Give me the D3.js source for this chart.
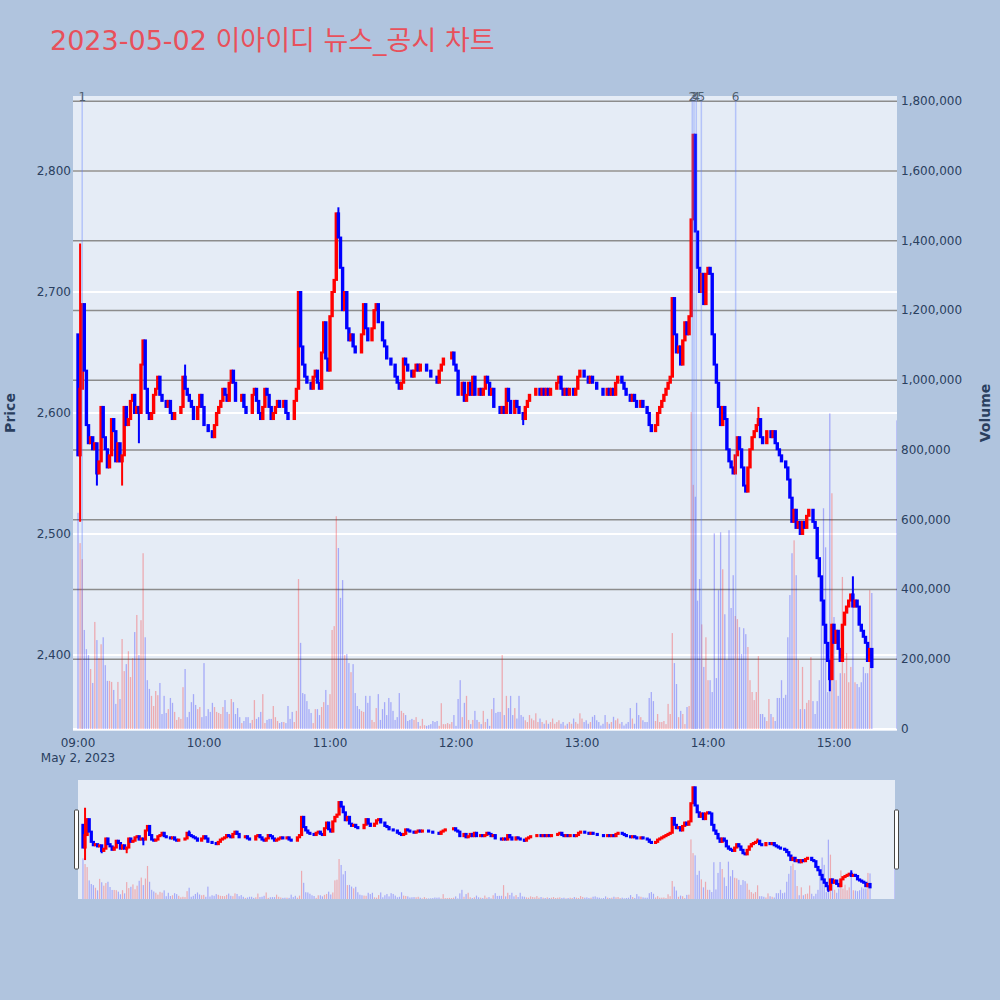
<!DOCTYPE html>
<html><head><meta charset="utf-8">
<script src="https://cdn.jsdelivr.net/npm/d3@7/dist/d3.min.js"></script>
<style>
body{margin:0;background:#b0c4de;}
svg{display:block;font-family:"DejaVu Sans","Noto Sans CJK KR",sans-serif;}
</style>
</head><body>
<svg id="chart" width="1000" height="1000"></svg>
<script>
// ---------------- data ----------------
const titleText = "2023-05-02 이아이디 뉴스_공시 차트";
const sessionDate = [2023, 4, 2];          // May 2, 2023
const firstOpen = 2665;                     // open of the 09:00 candle
// 1-minute closes from 09:00 (index 0) to 15:18
const closes = [
2565,2620,2690,2635,2590,2575,2580,2570,2575,2550,
2560,2605,2580,2570,2555,2565,2595,2585,2560,2575,
2560,2565,2605,2590,2595,2610,2615,2600,2605,2600,
2640,2660,2620,2600,2595,2600,2615,2620,2630,2615,
2610,2610,2605,2610,2600,2595,2600,2600,2600,2605,
2630,2620,2615,2610,2605,2595,2595,2605,2615,2605,
2590,2590,2585,2585,2580,2590,2600,2605,2610,2620,
2615,2610,2625,2635,2625,2610,2610,2610,2615,2605,
2600,2600,2600,2615,2620,2610,2600,2595,2605,2620,
2615,2605,2595,2600,2605,2610,2605,2605,2610,2600,
2595,2595,2595,2610,2620,2700,2655,2640,2630,2625,
2625,2620,2630,2635,2625,2620,2650,2675,2645,2635,
2680,2700,2710,2765,2745,2720,2685,2700,2670,2660,
2665,2655,2650,2650,2650,2665,2690,2670,2660,2660,
2670,2685,2690,2675,2675,2660,2655,2645,2645,2640,
2640,2630,2625,2620,2625,2645,2640,2635,2635,2630,
2635,2640,2635,2640,2640,2640,2635,2635,2630,2630,
2630,2625,2635,2640,2645,2645,2645,2645,2650,2640,
2635,2615,2615,2625,2610,2615,2625,2615,2630,2615,
2615,2620,2615,2620,2630,2625,2615,2620,2605,2605,
2605,2600,2605,2600,2620,2610,2600,2600,2610,2605,
2600,2600,2595,2605,2610,2615,2615,2615,2620,2620,
2615,2620,2615,2620,2615,2620,2620,2620,2625,2630,
2620,2615,2620,2615,2620,2620,2615,2620,2630,2635,
2635,2630,2630,2625,2630,2625,2625,2620,2620,2620,
2615,2615,2620,2615,2620,2615,2625,2630,2630,2625,
2620,2615,2615,2610,2615,2610,2605,2605,2610,2605,
2605,2600,2590,2585,2585,2590,2600,2605,2610,2615,
2620,2625,2630,2695,2665,2650,2655,2640,2660,2675,
2665,2680,2760,2830,2750,2720,2700,2715,2690,2715,
2720,2715,2665,2640,2625,2605,2590,2605,2595,2570,
2560,2555,2550,2565,2580,2570,2555,2540,2535,2555,
2570,2580,2585,2590,2595,2580,2575,2575,2585,2585,
2580,2585,2575,2570,2565,2560,2560,2555,2545,2530,
2510,2520,2505,2510,2500,2510,2505,2515,2520,2520,
2510,2505,2480,2465,2445,2425,2410,2395,2380,2425,
2410,2420,2405,2395,2425,2435,2440,2445,2450,2440,
2445,2440,2425,2420,2415,2410,2395,2405,2390
];
// 1-minute volumes (thousands of shares)
const volumesK = [
620,533,487,284,229,212,172,132,307,255,
203,243,263,183,138,138,135,112,72,135,
86,258,166,186,223,149,203,278,327,212,
312,504,263,140,115,95,66,109,97,132,
43,95,46,57,89,75,49,26,34,29,
120,172,34,49,77,100,69,57,63,34,
189,37,57,49,75,63,49,46,43,63,
83,49,43,86,77,43,60,34,17,23,
34,34,17,26,83,29,34,49,100,17,
26,29,29,66,34,23,17,20,20,17,
66,29,49,20,52,430,247,103,100,80,
57,46,17,57,57,40,63,77,112,69,
100,284,295,610,519,376,427,212,215,189,
163,186,103,66,57,52,49,95,75,95,
26,20,60,100,26,57,77,40,89,77,
52,26,34,103,52,46,40,23,26,29,
26,34,20,9,29,11,9,11,14,23,
20,23,9,74,14,14,17,14,20,40,
9,86,140,34,75,95,26,14,26,52,
26,20,14,52,20,29,9,57,89,46,
49,49,212,40,95,60,95,40,60,30,
95,40,35,25,20,40,30,25,45,20,
30,20,15,25,15,20,30,15,20,25,
15,20,10,15,20,15,30,20,15,45,
30,20,25,15,20,35,40,25,20,10,
15,40,20,15,20,35,25,30,15,20,
10,15,20,60,30,15,75,40,34,25,
20,20,89,106,80,23,43,20,20,23,
14,72,43,275,189,129,34,52,43,14,
63,66,909,700,666,368,430,300,178,263,
140,140,106,561,146,398,564,458,329,198,
570,347,441,324,315,292,215,289,272,235,
140,106,83,106,209,43,43,34,23,86,
43,34,23,89,89,140,89,98,263,384,
504,541,441,198,57,178,57,75,83,206,
80,43,80,140,384,633,521,106,905,676,
321,140,95,160,436,160,218,134,178,407,
134,129,120,134,178,160,160,398,390
];
const closingAuction = {time: [15, 30], price: 2400, volumeK: 885};
const wickHighs = [[1, 2740], [51, 2640], [124, 2770], [294, 2830], [324, 2605], [369, 2465]];
const wickLows  = [[1, 2510], [9, 2540], [21, 2540], [29, 2575], [212, 2590], [358, 2370]];
const priceTicks  = [2400, 2500, 2600, 2700, 2800];
const volumeTicks = [0, 200000, 400000, 600000, 800000, 1000000, 1200000, 1400000, 1600000, 1800000];
const hourTicks   = ["09:00", "10:00", "11:00", "12:00", "13:00", "14:00", "15:00"];
const dateLabel   = "May 2, 2023";
const newsLabels  = ["1", "2", "3", "4", "5", "6"];
const newsTimes   = ["09:02:00", "13:52:30", "13:53:20", "13:54:25", "13:56:50", "14:13:10"];

// ---------------- build OHLC ----------------
const T = (h, m, s) => new Date(sessionDate[0], sessionDate[1], sessionDate[2], h, m, s || 0);
const hi = new Map(wickHighs), lo = new Map(wickLows);
const candles = [];
let prevUp = false;
closes.forEach((c, i) => {
  const o = i === 0 ? firstOpen : closes[i - 1];
  const up = c > o ? true : (c < o ? false : prevUp);
  prevUp = up;
  candles.push({t: T(9, i), o, c,
    h: Math.max(o, c, hi.get(i) || -Infinity),
    l: Math.min(o, c, lo.has(i) ? lo.get(i) : Infinity),
    v: volumesK[i] * 1000, up});
});
{
  const p = closingAuction.price;
  candles.push({t: T(closingAuction.time[0], closingAuction.time[1]), o: p, c: p, h: p, l: p,
    v: closingAuction.volumeK * 1000, up: prevUp});
}
const news = newsTimes.map((s, k) => {
  const [h, m, sec] = s.split(":").map(Number);
  return {t: T(h, m, sec), label: newsLabels[k]};
});

// ---------------- layout ----------------
const svg = d3.select("#chart");
const P = {l: 73, r: 897, t: 96, b: 729};
const xDomain = [T(8, 57, 37), T(15, 30, 0)];
const priceDomain = [2338.8, 2862];
const volDomain = [0, 1815000];
const x = d3.scaleTime().domain(xDomain).range([P.l, P.r]);
const yP = d3.scaleLinear().domain(priceDomain).range([P.b, P.t]);
const yV = d3.scaleLinear().domain(volDomain).range([P.b, P.t]);
const RED = "#ff0000", BLUE = "#0000ff", TXT = "#2a3f5f";

svg.append("rect").attr("width", 1000).attr("height", 1000).attr("fill", "#b0c4de");
svg.append("text").attr("x", 50).attr("y", 50).attr("font-size", 27).attr("fill", "#e8505b")
  .text(titleText);

svg.append("rect").attr("x", P.l).attr("y", P.t).attr("width", P.r - P.l).attr("height", P.b - P.t + 2)
  .attr("fill", "#e5ecf6");

// grids
const g = svg.append("g");
g.selectAll(".pg").data(priceTicks).join("line")
  .attr("x1", P.l).attr("x2", P.r).attr("y1", d => yP(d)).attr("y2", d => yP(d))
  .attr("stroke", "#ffffff").attr("stroke-width", 2);
g.selectAll(".vg").data(volumeTicks.filter(d => d > 0)).join("line")
  .attr("x1", P.l).attr("x2", P.r).attr("y1", d => yV(d)).attr("y2", d => yV(d))
  .attr("stroke", "#8c8c8c").attr("stroke-width", 1.3);
g.append("line").attr("x1", P.l).attr("x2", P.r).attr("y1", yV(0)).attr("y2", yV(0))
  .attr("stroke", "#ffffff").attr("stroke-width", 2);

svg.append("clipPath").attr("id", "clipMain").append("rect")
  .attr("x", P.l).attr("y", P.t).attr("width", P.r - P.l).attr("height", P.b - P.t + 2);

function drawTraces(parent, xs, yp, yv, barW, bodyW, lw) {
  parent.selectAll(".vol").data(candles).join("rect")
    .attr("x", d => xs(d.t) - barW / 2).attr("width", barW)
    .attr("y", d => yv(d.v)).attr("height", d => yv(0) - yv(d.v))
    .attr("fill", d => d.up ? RED : BLUE).attr("fill-opacity", 0.28);
  const cg = parent.selectAll(".cdl").data(candles).join("g");
  cg.append("line")
    .attr("x1", d => xs(d.t)).attr("x2", d => xs(d.t))
    .attr("y1", d => yp(d.h)).attr("y2", d => yp(d.l))
    .attr("stroke", d => d.up ? RED : BLUE).attr("stroke-width", lw);
  cg.append("rect")
    .attr("x", d => xs(d.t) - bodyW / 2).attr("width", bodyW)
    .attr("y", d => yp(Math.max(d.o, d.c)))
    .attr("height", d => Math.abs(yp(d.o) - yp(d.c)))
    .attr("fill", d => d.up ? RED : BLUE)
    .attr("stroke", d => d.up ? RED : BLUE).attr("stroke-width", lw);
}
const main = svg.append("g").attr("clip-path", "url(#clipMain)");
drawTraces(main, x, yP, yV, 1.3, 1.4, 2);

// news lines
svg.append("g").selectAll("line").data(news).join("line")
  .attr("x1", d => x(d.t)).attr("x2", d => x(d.t)).attr("y1", P.t).attr("y2", P.b)
  .attr("stroke", "#5a78ff").attr("stroke-opacity", 0.35).attr("stroke-width", 1.5);
svg.append("g").selectAll("text").data(news).join("text")
  .attr("x", d => x(d.t)).attr("y", P.t + 5).attr("text-anchor", "middle")
  .attr("font-size", 12).attr("fill", "#506070").text(d => d.label);

// axes text
const ax = svg.append("g").attr("font-size", 12).attr("fill", TXT);
ax.selectAll(".pt").data(priceTicks).join("text")
  .attr("x", 71).attr("y", d => yP(d) + 4).attr("text-anchor", "end")
  .text(d => d3.format(",")(d));
ax.selectAll(".vt").data(volumeTicks).join("text")
  .attr("x", 901).attr("y", d => yV(d) + 4).attr("text-anchor", "start")
  .text(d => d3.format(",")(d));
ax.selectAll(".ht").data(hourTicks).join("text")
  .attr("x", d => { const [h, m] = d.split(":").map(Number); return x(T(h, m)); })
  .attr("y", 747).attr("text-anchor", "middle").text(d => d);
ax.append("text").attr("x", x(T(9, 0))).attr("y", 762).attr("text-anchor", "middle").text(dateLabel);
svg.append("text").attr("transform", "translate(15,413) rotate(-90)").attr("text-anchor", "middle")
  .attr("font-size", 14).attr("font-weight", "bold").attr("fill", TXT).text("Price");
svg.append("text").attr("transform", "translate(990,413) rotate(-90)").attr("text-anchor", "middle")
  .attr("font-size", 14).attr("font-weight", "bold").attr("fill", TXT).text("Volume");

// range slider
const S = {l: 78, r: 895, t: 780, b: 899};
svg.append("rect").attr("x", S.l).attr("y", S.t).attr("width", S.r - S.l).attr("height", S.b - S.t)
  .attr("fill", "#e5ecf6");
svg.append("clipPath").attr("id", "clipSl").append("rect")
  .attr("x", S.l).attr("y", S.t).attr("width", S.r - S.l).attr("height", S.b - S.t);
const xs = d3.scaleTime().domain(xDomain).range([S.l, S.r]);
const ysP = d3.scaleLinear().domain(priceDomain).range([S.b, S.t]);
const ysV = d3.scaleLinear().domain(volDomain).range([S.b, S.t]);
drawTraces(svg.append("g").attr("clip-path", "url(#clipSl)"), xs, ysP, ysV, 1.2, 1.2, 2);
[S.l - 2, S.r + 1].forEach(hx => {
  svg.append("rect").attr("x", hx - 1.5).attr("y", 810).attr("width", 4).attr("height", 59)
    .attr("rx", 1).attr("fill", "#ffffff").attr("stroke", "#444").attr("stroke-width", 1);
});
</script>
</body></html>
